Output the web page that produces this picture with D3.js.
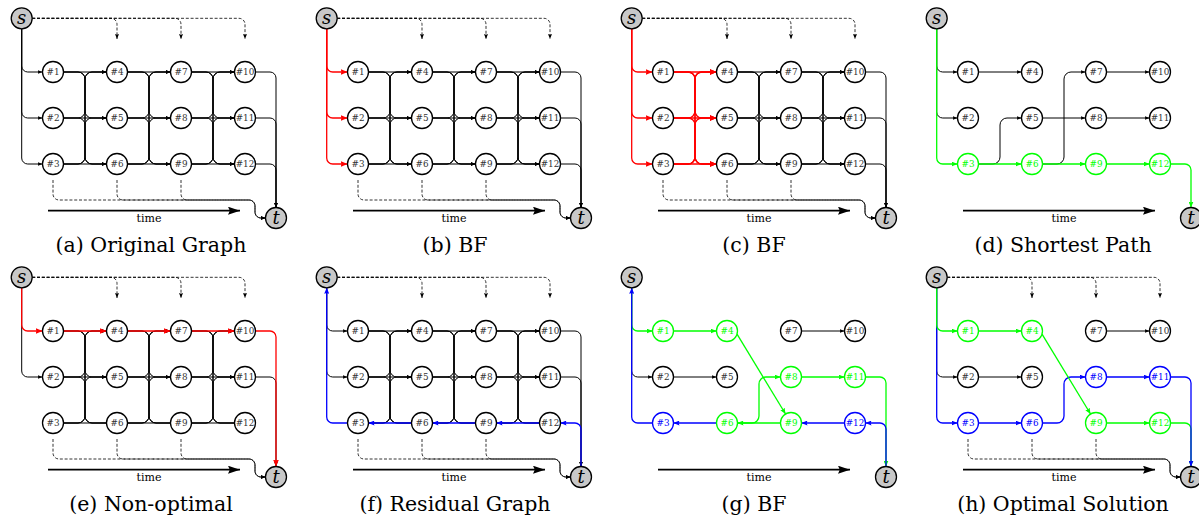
<!DOCTYPE html>
<html>
<head>
<meta charset="utf-8">
<script src="https://cdn.jsdelivr.net/npm/d3@7"></script>
<style>
  body { margin: 0; background: #fff; }
  text { font-family: "DejaVu Serif", serif; }
</style>
</head>
<body>
<svg id="fig"></svg>
<script>
const W = 1199, H = 521;

// ---- data ----
const captions = ['(a) Original Graph', '(b) BF', '(c) BF', '(d) Shortest Path',
                  '(e) Non-optimal', '(f) Residual Graph', '(g) BF', '(h) Optimal Solution'];
const nodeLabels = ['#1', '#2', '#3', '#4', '#5', '#6', '#7', '#8', '#9', '#10', '#11', '#12'];
const hasDashed = [true, true, true, false, true, true, false, true];

// edges written "from-to"; "~" = straight diagonal edge
const redB = ['s-1', 's-2', 's-3'];
const redC = ['s-1', 's-2', 's-3', '1-4', '1-5', '1-6', '2-4', '2-5', '2-6', '3-4', '3-5', '3-6'];
const blackD = ['s-1', 's-2', '1-4', '3-5', '5-8', '8-11', '6-7', '7-10'];
const greenD = ['s-3', '3-6', '6-9', '9-12', '12-t'];
const cutE = ['s-3', '12-t'];
const redE = ['s-1', '1-4', '4-7', '7-10', '10-t'];
const cutF = ['s-3', '3-6', '6-9', '9-12', '12-t'];
const blueF = ['t-12', '12-9', '9-6', '6-3', '3-s'];
const noArrowInto = ['6', '9', '12'];   // (e),(f): row-3 nodes drawn without arrowheads
const blackG = ['s-2', '2-5', '7-10'];
const greenG = ['s-1', '1-4', '4~9', '6-8', '8-11', '11-t', '9-6'];
const blueG = ['3-s', '6-3', '12-9', 't-12'];
const blackH = ['s-2', '2-5', '7-10'];
const blueH = ['s-3', '3-6', '6-8', '8-11'];
const greenH = ['s-1', '1-4', '4~9', '9-12', '12-t'];
const blueHLast = ['11-t'];

const greenNodesD = [3, 6, 9, 12];
const greenNodesG = [1, 4, 6, 8, 9, 11];
const blueNodesG = [3, 12];
const greenNodesH = [1, 4, 9, 12];
const blueNodesH = [3, 6, 8, 11];

// full time-expanded graph
const fullGraph = [];
[1, 2, 3].forEach(n => fullGraph.push(`s-${n}`));
d3.range(3).forEach(c => d3.range(3).forEach(r1 => d3.range(3).forEach(r2 =>
  fullGraph.push(`${c * 3 + r1 + 1}-${(c + 1) * 3 + r2 + 1}`))));
[10, 11, 12].forEach(n => fullGraph.push(`${n}-t`));

const tag = (list, c) => list.map(k => [k, c]);
const specs = [
  { base: fullGraph, colored: [] },
  { base: fullGraph, colored: tag(redB, 'r') },
  { base: fullGraph, colored: tag(redC, 'r') },
  { base: blackD, colored: tag(greenD, 'g'), nodes: tag(greenNodesD, 'g') },
  { base: fullGraph, cut: cutE, colored: tag(redE, 'r'), noArrow: noArrowInto },
  { base: fullGraph, cut: cutF, colored: tag(blueF, 'b'), noArrow: noArrowInto },
  { base: blackG, colored: tag(greenG, 'g').concat(tag(blueG, 'b')),
    nodes: tag(greenNodesG, 'g').concat(tag(blueNodesG, 'b')) },
  { base: blackH, colored: tag(blueH, 'b').concat(tag(greenH, 'g'), tag(blueHLast, 'b')),
    nodes: tag(greenNodesH, 'g').concat(tag(blueNodesH, 'b')) }
];

// ---- layout ----
const colors = { k: '#000', r: '#ff0000', g: '#00ff00', b: '#0000ff' };
const panelX = d3.scaleLinear().domain([0, 3]).range([0, 915]);
const panelY = d3.scaleLinear().domain([0, 1]).range([0, 259]);
const captionX = [151, 455, 754, 1063];
const nodeX = d3.scaleLinear().domain([0, 3]).range([53, 245]);
const nodeY = d3.scaleLinear().domain([0, 2]).range([72, 164]);
const sPos = { x: 21.7, y: 18.3 }, tPos = { x: 276, y: 218 };
const R = 10.5, cr = 6, busR = 7;

const svg = d3.select('#fig').attr('width', W).attr('height', H);
svg.append('rect').attr('width', W).attr('height', H).attr('fill', '#fff');

// arrowheads
const defs = svg.append('defs');
const arrowSize = { k: [5, 4], r: [7, 6], g: [6, 5], b: [6, 5], big: [12, 8] };
Object.keys(arrowSize).forEach(key => {
  const [w, h] = arrowSize[key];
  defs.append('marker')
    .attr('id', `arr-${key}`)
    .attr('viewBox', `0 ${-h / 2} ${w} ${h}`)
    .attr('refX', w).attr('refY', 0)
    .attr('markerWidth', w).attr('markerHeight', h)
    .attr('markerUnits', 'userSpaceOnUse')
    .attr('orient', 'auto')
    .append('path')
    .attr('d', `M0,${-h / 2} L${w},0 L0,${h / 2} L${w * 0.15},0 Z`)
    .attr('fill', key === 'big' ? '#000' : colors[key]);
});

function pos(id) {
  if (id === 's') return sPos;
  if (id === 't') return tPos;
  const n = +id - 1;
  return { x: nodeX(Math.floor(n / 3)), y: nodeY(n % 3) };
}

function edgePath(key) {
  const diag = key.includes('~');
  const [a, b] = key.split(/[-~]/);
  const A = pos(a), B = pos(b);
  const p = d3.path();
  if (diag) {
    const x0 = A.x + R * Math.cos(0.3), y0 = A.y + R * Math.sin(0.3);
    const dx = B.x - x0, dy = B.y - y0, L = Math.hypot(dx, dy);
    p.moveTo(x0, y0);
    p.lineTo(B.x - R * dx / L, B.y - R * dy / L);
  } else if (a === 's') {
    p.moveTo(A.x, A.y + R); p.arcTo(A.x, B.y, B.x, B.y, cr); p.lineTo(B.x - R, B.y);
  } else if (b === 's') {
    p.moveTo(A.x - R, A.y); p.arcTo(B.x, A.y, B.x, B.y, cr); p.lineTo(B.x, B.y + R);
  } else if (b === 't') {
    p.moveTo(A.x + R, A.y); p.arcTo(B.x, A.y, B.x, B.y, cr); p.lineTo(B.x, B.y - R);
  } else if (a === 't') {
    p.moveTo(A.x, A.y - R); p.arcTo(A.x, B.y, B.x, B.y, cr); p.lineTo(B.x + R, B.y);
  } else if (A.y === B.y) {
    const d = Math.sign(B.x - A.x);
    p.moveTo(A.x + d * R, A.y); p.lineTo(B.x - d * R, B.y);
  } else {
    const bx = (A.x + B.x) / 2, d = Math.sign(B.x - A.x);
    p.moveTo(A.x + d * R, A.y);
    p.arcTo(bx, A.y, bx, B.y, busR);
    p.arcTo(bx, B.y, B.x, B.y, busR);
    p.lineTo(B.x - d * R, B.y);
  }
  return p.toString();
}

function dashedTop(cx) {
  const p = d3.path();
  p.moveTo(sPos.x + R, sPos.y); p.arcTo(cx, sPos.y, cx, 39, cr); p.lineTo(cx, 39);
  return p.toString();
}
function dashedBottom(cx) {
  const p = d3.path(), bx = 255, hy = 200;
  p.moveTo(cx, 180);
  p.arcTo(cx, hy, cx + 20, hy, cr);
  p.arcTo(bx, hy, bx, tPos.y, cr);
  p.arcTo(bx, tPos.y, tPos.x - R, tPos.y, cr);
  p.lineTo(tPos.x - R, tPos.y);
  return p.toString();
}

specs.forEach((spec, i) => {
  const g = svg.append('g')
    .attr('transform', `translate(${panelX(i % 4)},${panelY(Math.floor(i / 4))})`);

  const cut = spec.cut || [];
  const coloredKeys = spec.colored.map(d => d[0]);
  const noArrow = spec.noArrow || [];
  const edges = spec.base
    .filter(k => !cut.includes(k) && !coloredKeys.includes(k))
    .map(k => ({ key: k, c: 'k', arrow: !noArrow.includes(k.split('-')[1]) }))
    .concat(spec.colored.map(([k, c]) => ({ key: k, c, arrow: true })));

  // dashed source/sink edges
  if (hasDashed[i]) {
    const dash = g.append('g').attr('fill', 'none').attr('stroke', '#000')
      .attr('stroke-width', 0.8).attr('stroke-dasharray', '3,1.8');
    [1, 2, 3].forEach(c => dash.append('path').attr('d', dashedTop(nodeX(c)))
      .attr('marker-end', 'url(#arr-k)'));
    [0, 1, 2].forEach(c => dash.append('path').attr('d', dashedBottom(nodeX(c)))
      .attr('marker-end', 'url(#arr-k)'));
  }

  g.append('g').attr('fill', 'none')
    .selectAll('path').data(edges).join('path')
    .attr('d', d => edgePath(d.key))
    .attr('stroke', d => colors[d.c])
    .attr('stroke-width', d => d.c === 'k' ? 1 : 1.3)
    .attr('marker-end', d => d.arrow ? `url(#arr-${d.c})` : null);

  // time arrow
  g.append('line').attr('x1', 48).attr('x2', 240).attr('y1', 210.7).attr('y2', 210.7)
    .attr('stroke', '#000').attr('stroke-width', 1.8).attr('marker-end', 'url(#arr-big)');
  g.append('text').attr('x', 149).attr('y', 222).attr('text-anchor', 'middle')
    .attr('font-size', 11).text('time');

  // nodes
  const nodeColor = new Map((spec.nodes || []).map(([n, c]) => [n, colors[c]]));
  const nodes = g.selectAll('g.node').data(nodeLabels).join('g')
    .attr('class', 'node')
    .attr('transform', (d, j) => `translate(${pos(j + 1).x},${pos(j + 1).y})`);
  nodes.append('circle').attr('r', R).attr('fill', '#fff')
    .attr('stroke', (d, j) => nodeColor.get(j + 1) || '#000').attr('stroke-width', 1.3);
  nodes.append('text').attr('text-anchor', 'middle').attr('dy', '0.36em')
    .attr('font-size', 8.8).attr('fill', (d, j) => nodeColor.get(j + 1) || '#333')
    .text(d => d);

  [['s', sPos], ['t', tPos]].forEach(([name, p]) => {
    g.append('circle').attr('cx', p.x).attr('cy', p.y).attr('r', R)
      .attr('fill', '#c8c8c8').attr('stroke', '#000').attr('stroke-width', 1.3);
    g.append('text').attr('x', p.x).attr('y', p.y).attr('dy', name === 's' ? '0.3em' : '0.33em')
      .attr('text-anchor', 'middle').attr('font-size', 18).attr('font-style', 'italic')
      .text(name);
  });

  // caption
  svg.append('text')
    .attr('x', captionX[i % 4])
    .attr('y', 252 + panelY(Math.floor(i / 4)))
    .attr('text-anchor', 'middle').attr('font-size', 20.5)
    .text(captions[i]);
});
</script>
</body>
</html>
